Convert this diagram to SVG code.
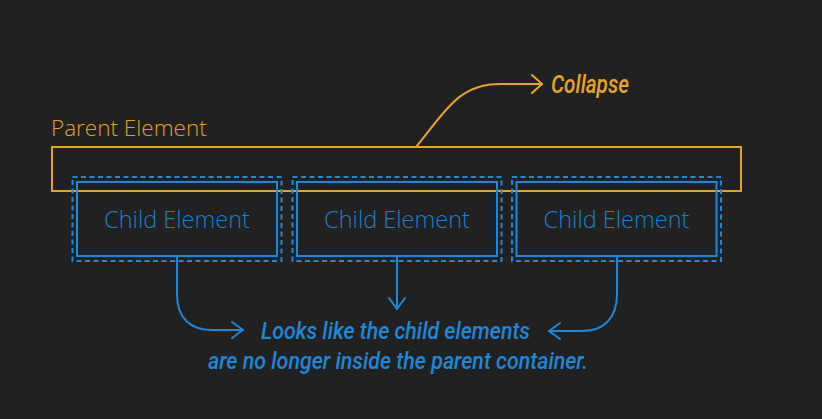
<svg xmlns="http://www.w3.org/2000/svg" width="822" height="419" viewBox="0 0 822 419">
<defs>
<style>
.bg{fill:#212121}
.parent{fill:none;stroke:#E6A424;stroke-width:2}
.child{fill:none;stroke:#1F87D6;stroke-width:2}
.dash{fill:none;stroke:#1F87D6;stroke-width:2;stroke-dasharray:5 3.5}
.lbl{font-family:"Open Sans","Noto Sans","DejaVu Sans",sans-serif;font-weight:300}
.plbl{fill:#E0A02A;font-size:22.5px}
.clbl{fill:#1E7FC8;font-size:23.5px}
.note{font-family:Roboto,"Liberation Sans",sans-serif;font-style:italic;font-weight:500}
.ob{fill:none;stroke:#E6A424;stroke-width:2;stroke-linecap:round;stroke-linejoin:round}
.bl{fill:none;stroke:#1F87D6;stroke-width:2;stroke-linecap:round;stroke-linejoin:round}
</style>
</defs>
<rect class="bg" x="0" y="0" width="822" height="419"/>
<g id="parent">
<rect class="parent" x="52" y="147" width="689" height="44"/>
<text class="lbl plbl" x="51" y="136">Parent Element</text>
</g>
<g id="child1">
<rect class="dash" x="72.5" y="177" width="209" height="84"/>
<rect class="child" x="77" y="182" width="200" height="74"/>
<text class="lbl clbl" x="177" y="228" text-anchor="middle">Child Element</text>
</g>
<g id="child2">
<rect class="dash" x="292.5" y="177" width="209" height="84"/>
<rect class="child" x="297" y="182" width="200" height="74"/>
<text class="lbl clbl" x="397" y="228" text-anchor="middle">Child Element</text>
</g>
<g id="child3">
<rect class="dash" x="512" y="177" width="209" height="84"/>
<rect class="child" x="516.5" y="182" width="200" height="74"/>
<text class="lbl clbl" x="616.5" y="228" text-anchor="middle">Child Element</text>
</g>
<g id="collapse-label">
<text class="note" x="551" y="92.5" font-size="25.5" fill="#E6A424" textLength="78" lengthAdjust="spacingAndGlyphs">Collapse</text>
</g>
<g id="note">
<text class="note" font-size="24.5" fill="#1F87D6" text-anchor="middle">
<tspan x="398.5" y="339" textLength="269" lengthAdjust="spacingAndGlyphs">Looks like the child elements</tspan>
<tspan x="398" y="369" textLength="380" lengthAdjust="spacingAndGlyphs">are no longer inside the parent container.</tspan>
</text>
</g>
<g id="connectors">
<path class="ob" d="M416 147 C445 112 458 84 500 84 H542"/>
<path class="ob" d="M532 75 L542 84 L532 93"/>
<path class="bl" d="M177 257 V294 C177 318 190 330 212 330 H243"/>
<path class="bl" d="M232 322 L243 330 L232 338"/>
<path class="bl" d="M397 257 V309"/>
<path class="bl" d="M389 298 L397 309 L405 298"/>
<path class="bl" d="M617 257 V294 C617 318 604 331 582 331 H549"/>
<path class="bl" d="M560 323 L549 331 L560 339"/>
</g>
</svg>
